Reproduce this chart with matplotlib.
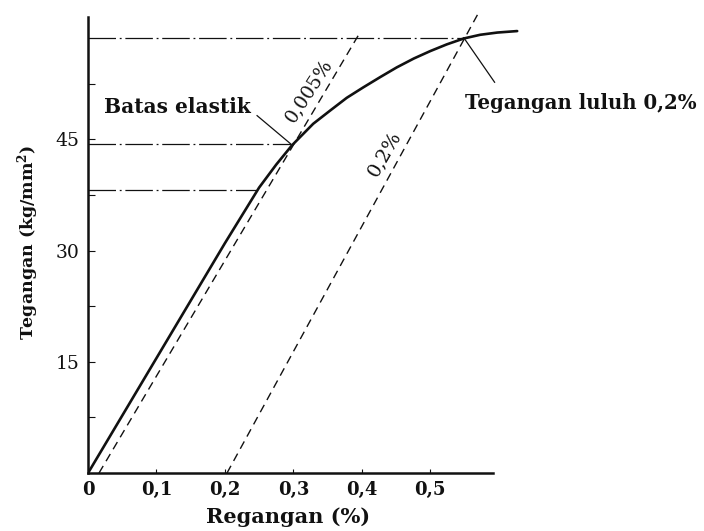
"""Stress-strain curve with the 0,005 % and 0,2 % offset lines (yield by offset method)."""

import matplotlib.pyplot as plt
from matplotlib.ticker import FixedLocator

plt.rcParams["font.family"] = ["DejaVu Serif"]
plt.rcParams["mathtext.fontset"] = "dejavuserif"

# ---------------------------------------------------------------------------
# Data
# ---------------------------------------------------------------------------
STRAIN = [0.0, 0.10, 0.20, 0.25, 0.275, 0.298, 0.329, 0.354, 0.378, 0.402,
          0.427, 0.451, 0.476, 0.500, 0.524, 0.549, 0.573, 0.598, 0.627]
STRESS = [0.0, 15.5, 31.0, 38.5, 41.6, 44.2, 47.1, 48.9, 50.6, 52.0,
          53.4, 54.7, 55.9, 56.9, 57.8, 58.6, 59.1, 59.4, 59.6]

OFFSET_SMALL_X = [0.016, 0.398]   # 0,005 % offset line
OFFSET_SMALL_Y = [0.0, 59.5]
OFFSET_LARGE_X = [0.203, 0.569]   # 0,2 % offset line
OFFSET_LARGE_Y = [0.0, 61.8]

# Horizontal reference levels and where they meet the curve.
LEVELS = [58.7, 44.4, 38.2]
LEVEL_ENDS = [0.549, 0.296, 0.247]

X_TICKS = [0.0, 0.1, 0.2, 0.3, 0.4, 0.5]
X_TICK_LABELS = ["0", "0,1", "0,2", "0,3", "0,4", "0,5"]
Y_TICKS = [15, 30, 45]
Y_TICK_LABELS = ["15", "30", "45"]
Y_MINOR = [7.5, 22.5, 37.5, 52.5]

INK = "#111111"

figure = plt.figure(figsize=(7.04, 5.31), dpi=100)
axis = figure.add_axes([0.125, 0.109, 0.632, 0.873])
axis.set_xlim(0, 0.65)
axis.set_ylim(0, 62.5)

# Reference levels (dash-dot), drawn from the stress axis to the curve.
for level, end in zip(LEVELS, LEVEL_ENDS):
    axis.plot([0, end], [level, level], color=INK, linewidth=0.9,
              linestyle=(0, (22, 3, 1.5, 3)), zorder=2)

axis.plot(OFFSET_SMALL_X, OFFSET_SMALL_Y, color=INK, linewidth=1.0,
          linestyle=(0, (6, 4)), zorder=2)
axis.plot(OFFSET_LARGE_X, OFFSET_LARGE_Y, color=INK, linewidth=1.0,
          linestyle=(0, (6, 4)), zorder=2)

axis.plot(STRAIN, STRESS, color=INK, linewidth=1.9, zorder=3,
          solid_capstyle="round", solid_joinstyle="round")

# Annotations with leader lines.
axis.plot([0.247, 0.296], [48.2, 44.4], color=INK, linewidth=0.9)
axis.text(0.131, 49.3, "Batas elastik", fontsize=14.5, weight="bold",
          ha="center", va="center", color=INK)
axis.plot([0.594, 0.549], [52.7, 58.7], color=INK, linewidth=0.9)
axis.text(0.551, 49.9, "Tegangan luluh 0,2%", fontsize=14.2, weight="bold",
          ha="left", va="center", color=INK, clip_on=False)
axis.text(0.322, 51.6, "0,005%", fontsize=13.5, rotation=57,
          ha="center", va="center", color=INK)
axis.text(0.433, 43.1, "0,2%", fontsize=14, rotation=60,
          ha="center", va="center", color=INK)

# Axes styling: only left and bottom spines, inward ticks.
for side in ("top", "right"):
    axis.spines[side].set_visible(False)
for side in ("left", "bottom"):
    axis.spines[side].set_linewidth(1.8)
    axis.spines[side].set_color(INK)
axis.spines["bottom"].set_bounds(0, 0.592)
axis.spines["left"].set_bounds(0, 61.5)

axis.set_xticks(X_TICKS)
axis.set_xticklabels(X_TICK_LABELS, fontsize=13, weight="bold")
axis.set_yticks(Y_TICKS)
axis.set_yticklabels(Y_TICK_LABELS, fontsize=13.5)
axis.yaxis.set_minor_locator(FixedLocator(Y_MINOR))
axis.tick_params(axis="x", direction="in", length=3, width=0.8, pad=6, colors=INK)
axis.tick_params(axis="y", which="both", direction="in", length=5, width=0.8,
                 pad=6, colors=INK)
axis.patch.set_alpha(0)

figure.text(0.040, 0.544, "Tegangan (kg/mm$^{\\mathbf{2}}$)", rotation=90,
            fontsize=12.5, weight="bold", ha="center", va="center", color=INK)
figure.text(0.409, 0.026, "Regangan (%)", fontsize=15, weight="bold",
            ha="center", va="center", color=INK)

figure.savefig("out.png", dpi=100, facecolor="white")
